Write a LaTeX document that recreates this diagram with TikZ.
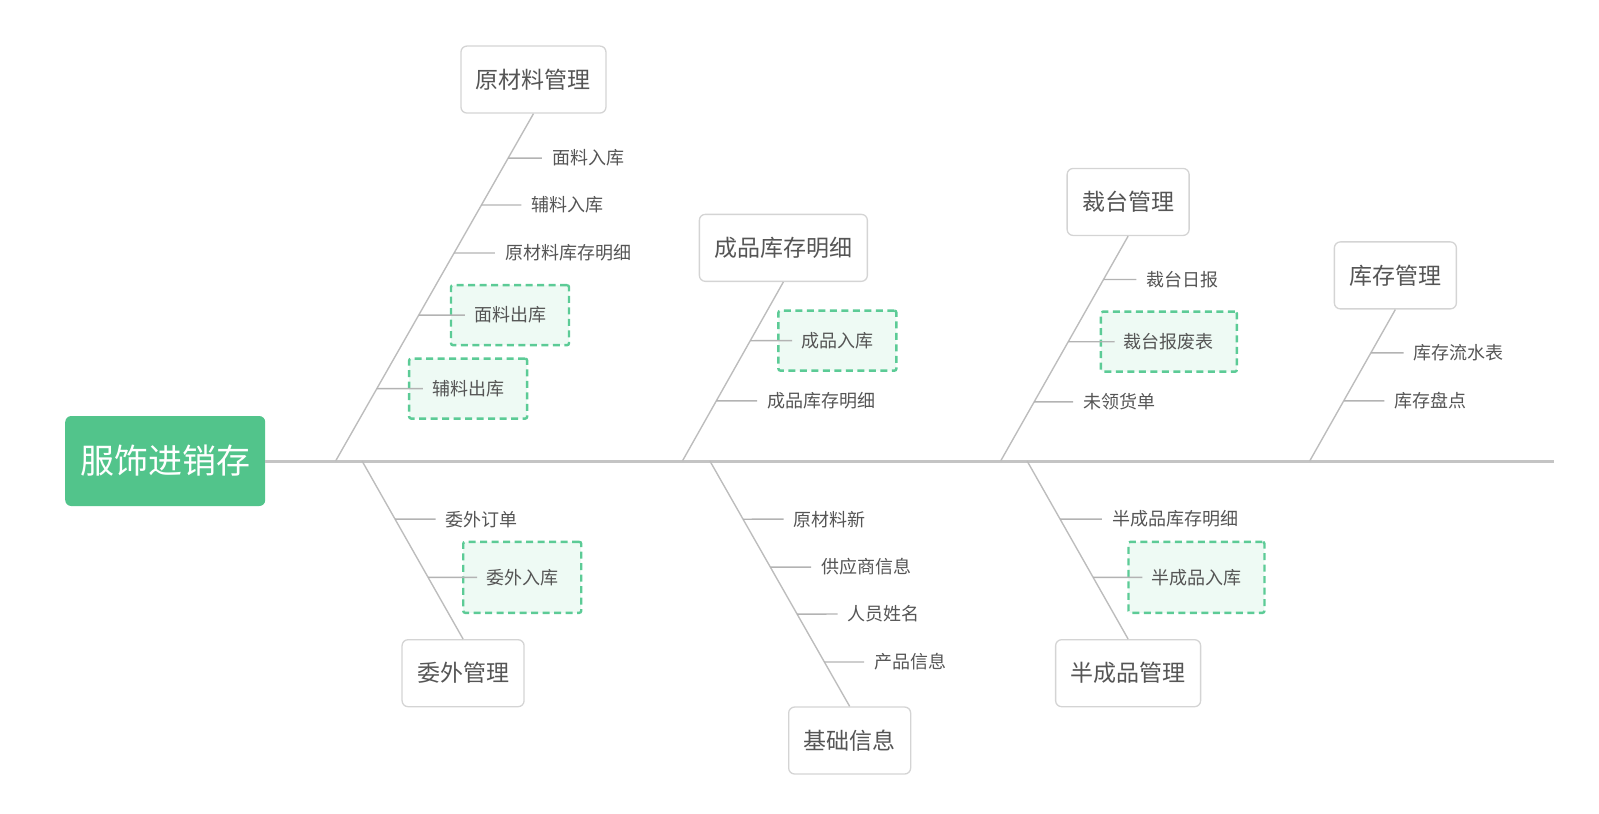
\documentclass[tikz,border=0pt]{standalone}
\usepackage{fontspec}
\setmainfont{Noto Sans CJK SC}
\definecolor{spinec}{HTML}{C4C4C4}
\definecolor{bonec}{HTML}{BDBDBD}
\definecolor{twigc}{HTML}{B3B3B3}
\definecolor{headc}{HTML}{52C48B}
\definecolor{boxc}{HTML}{D4D4D4}
\definecolor{textc}{HTML}{555555}
\definecolor{hlc}{HTML}{5CCB96}
\definecolor{hlfill}{HTML}{EEFAF4}
\begin{document}
\begin{tikzpicture}[x=1.02pt,y=-1.02pt,
  spine/.style={draw=spinec, line width=3pt},
  bone/.style={draw=bonec, line width=1.4pt},
  twig/.style={draw=twigc, line width=1.4pt},
  headbox/.style={fill=headc, rounded corners=6pt, text=white, font=\fontsize{34}{40}\selectfont, minimum width=200pt, minimum height=90pt, inner sep=0pt},
  mainbox/.style={draw=boxc, fill=white, line width=1.3pt, rounded corners=6pt, text=textc, font=\fontsize{23}{28}\selectfont, inner xsep=15pt, inner ysep=0pt, minimum height=67pt},
  subtext/.style={text=textc, font=\fontsize{18}{22}\selectfont, anchor=west, inner sep=0pt},
  hlbox/.style={draw=hlc, fill=hlfill, line width=2.4pt, dash pattern=on 7pt off 4.5pt, rounded corners=2pt, text=textc, font=\fontsize{18}{22}\selectfont, inner xsep=23pt, inner ysep=0pt, minimum height=60pt},
  hlboxlow/.style={hlbox, minimum height=71pt}]
\useasboundingbox (0,0) rectangle (1567.65,798.04);

% head and spine
\node[headbox] (head) at (162,452) {服饰进销存};
\coordinate (end) at (1524,452);
\draw[spine] (head.east) -- (end);

% ---------- branch 1: 原材料管理 ----------
\node[mainbox] (b1) at (523,78) {原材料管理};
\coordinate (s1) at (329,452);
\draw[bone] (s1) -- (b1.south);
\node[subtext] (t11) at (541,155) {面料入库};
\node[subtext] (t12) at (521,201) {辅料入库};
\node[subtext] (t13) at (495,248) {原材料库存明细};
\node[hlbox] (d14) at (500,309) {面料出库};
\node[hlbox] (d15) at (459,381) {辅料出库};
\coordinate (p11) at (intersection of s1--b1.south and t11.west--t11.east);
\coordinate (p12) at (intersection of s1--b1.south and t12.west--t12.east);
\coordinate (p13) at (intersection of s1--b1.south and t13.west--t13.east);
\coordinate (p14) at (intersection of s1--b1.south and d14.west--d14.east);
\coordinate (p15) at (intersection of s1--b1.south and d15.west--d15.east);
\draw[twig] (p11) -- ([xshift=-10pt]t11.west);
\draw[twig] (p12) -- ([xshift=-10pt]t12.west);
\draw[twig] (p13) -- ([xshift=-10pt]t13.west);
\draw[twig] (p14) -- ([xshift=15pt]d14.west);
\draw[twig] (p15) -- ([xshift=15pt]d15.west);

% ---------- branch 2: 成品库存明细 ----------
\node[mainbox] (b2) at (768,243) {成品库存明细};
\coordinate (s2) at (669,452);
\draw[bone] (s2) -- (b2.south);
\node[hlbox] (d21) at (821,334) {成品入库};
\node[subtext] (t22) at (752,393) {成品库存明细};
\coordinate (p21) at (intersection of s2--b2.south and d21.west--d21.east);
\coordinate (p22) at (intersection of s2--b2.south and t22.west--t22.east);
\draw[twig] (p21) -- ([xshift=15pt]d21.west);
\draw[twig] (p22) -- ([xshift=-10pt]t22.west);

% ---------- branch 3: 裁台管理 ----------
\node[mainbox] (b3) at (1106,198) {裁台管理};
\coordinate (s3) at (981,452);
\draw[bone] (s3) -- (b3.south);
\node[subtext] (t31) at (1124,274) {裁台日报};
\node[hlbox] (d32) at (1146,335) {裁台报废表};
\node[subtext] (t33) at (1062,394) {未领货单};
\coordinate (p31) at (intersection of s3--b3.south and t31.west--t31.east);
\coordinate (p32) at (intersection of s3--b3.south and d32.west--d32.east);
\coordinate (p33) at (intersection of s3--b3.south and t33.west--t33.east);
\draw[twig] (p31) -- ([xshift=-10pt]t31.west);
\draw[twig] (p32) -- ([xshift=15pt]d32.west);
\draw[twig] (p33) -- ([xshift=-10pt]t33.west);

% ---------- branch 4: 库存管理 ----------
\node[mainbox] (b4) at (1368,270) {库存管理};
\coordinate (s4) at (1284,452);
\draw[bone] (s4) -- (b4.south);
\node[subtext] (t41) at (1386,346) {库存流水表};
\node[subtext] (t42) at (1367,393) {库存盘点};
\coordinate (p41) at (intersection of s4--b4.south and t41.west--t41.east);
\coordinate (p42) at (intersection of s4--b4.south and t42.west--t42.east);
\draw[twig] (p41) -- ([xshift=-10pt]t41.west);
\draw[twig] (p42) -- ([xshift=-10pt]t42.west);

% ---------- branch 5: 委外管理 ----------
\node[mainbox] (b5) at (454,660) {委外管理};
\coordinate (s5) at (355,452);
\draw[bone] (s5) -- (b5.north);
\node[subtext] (t51) at (437,509) {委外订单};
\node[hlboxlow] (d52) at (512,566) {委外入库};
\coordinate (p51) at (intersection of s5--b5.north and t51.west--t51.east);
\coordinate (p52) at (intersection of s5--b5.north and d52.west--d52.east);
\draw[twig] (p51) -- ([xshift=-10pt]t51.west);
\draw[twig] (p52) -- ([xshift=15pt]d52.west);

% ---------- branch 6: 基础信息 ----------
\node[mainbox] (b6) at (833,726) {基础信息};
\coordinate (s6) at (696,452);
\draw[bone] (s6) -- (b6.north);
\node[subtext] (t61) at (778,509) {原材料新};
\node[subtext] (t62) at (805,556) {供应商信息};
\node[subtext] (t63) at (831,602) {人员姓名};
\node[subtext] (t64) at (857,649) {产品信息};
\coordinate (p61) at (intersection of s6--b6.north and t61.west--t61.east);
\coordinate (p62) at (intersection of s6--b6.north and t62.west--t62.east);
\coordinate (p63) at (intersection of s6--b6.north and t63.west--t63.east);
\coordinate (p64) at (intersection of s6--b6.north and t64.west--t64.east);
\draw[twig] (p61) -- ([xshift=-10pt]t61.west);
\draw[twig] (p62) -- ([xshift=-10pt]t62.west);
\draw[twig] (p63) -- ([xshift=-10pt]t63.west);
\draw[twig] (p64) -- ([xshift=-10pt]t64.west);

% ---------- branch 7: 半成品管理 ----------
\node[mainbox] (b7) at (1106,660) {半成品管理};
\coordinate (s7) at (1007,452);
\draw[bone] (s7) -- (b7.north);
\node[subtext] (t71) at (1090,509) {半成品库存明细};
\node[hlboxlow] (d72) at (1173,566) {半成品入库};
\coordinate (p71) at (intersection of s7--b7.north and t71.west--t71.east);
\coordinate (p72) at (intersection of s7--b7.north and d72.west--d72.east);
\draw[twig] (p71) -- ([xshift=-10pt]t71.west);
\draw[twig] (p72) -- ([xshift=15pt]d72.west);
\end{tikzpicture}
\end{document}
